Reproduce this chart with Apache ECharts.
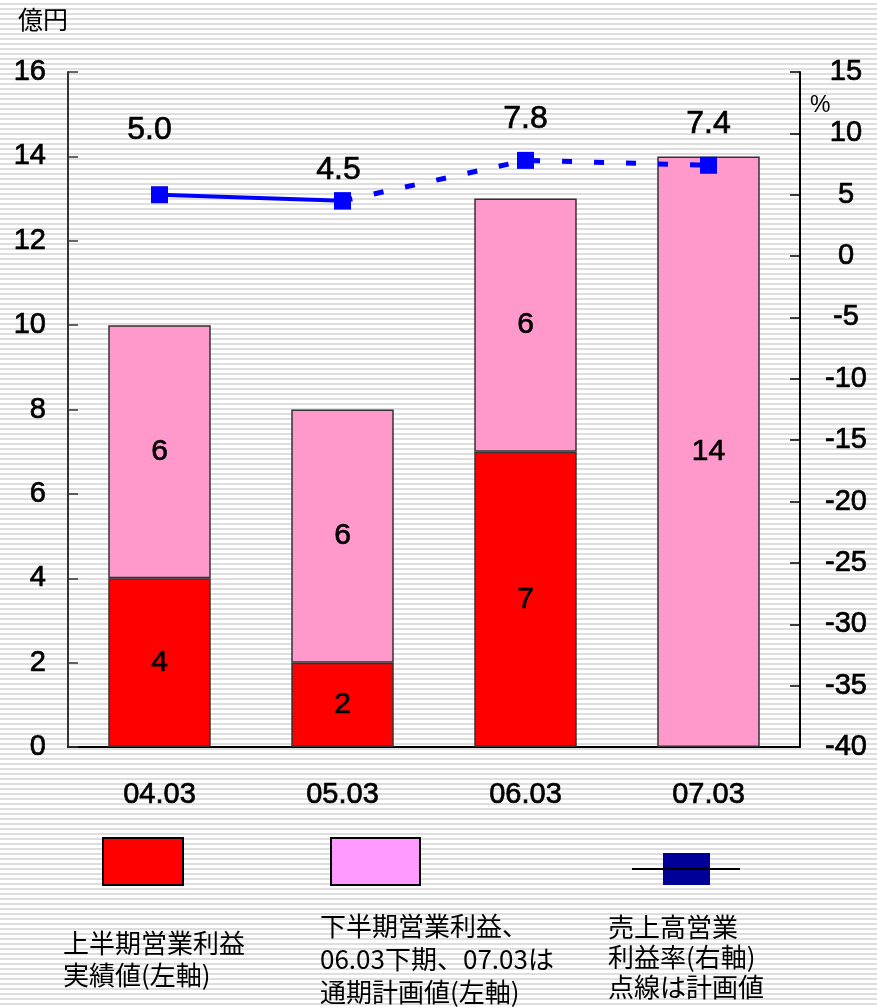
<!DOCTYPE html>
<html>
<head>
<meta charset="UTF-8" />
<title>営業利益</title>
<style>
* { margin: 0; padding: 0; }
html, body { width: 877px; height: 1007px; }
body {
  background: repeating-linear-gradient(to bottom, #ffffff 0px, #ffffff 3px, #dedede 3px, #dedede 5px);
}
#chart { width: 877px; height: 1007px; }
</style>
</head>
<body>
<div id="chart"></div>
<script src="https://cdn.jsdelivr.net/npm/echarts@6/dist/echarts.min.js"></script>
<script>
// 年度
let categories = ['04.03', '05.03', '06.03', '07.03']
// 上半期営業利益 実績値 (億円)
let firstHalf = [4, 2, 7, null]
// 下半期営業利益 / 通期計画値 (億円)
let secondHalf = [6, 6, 6, 14]
// 売上高営業利益率 (%) 実線=実績, 点線=計画
let marginActual = [5.0, 4.5, null, null]
let marginPlan = [null, 4.5, 7.8, 7.4]

let numFont = "'Liberation Sans', Arial, sans-serif"
let jpFont = "'Noto Sans CJK JP', sans-serif"
// 文字を少し太く見せる
let thick = { textBorderColor: '#000', textBorderWidth: 0.7 }

let chart = echarts.init(document.getElementById('chart'))

// ラベル位置を点ごとに調整
let labelDist = [40, 6, 17, 17]
let labelOff = [[-10, 0], [-4, 0], [0, 0], [0, 0]]
function withLabels(arr, showIdx) {
  return arr.map((v, i) => {
    if (v === null) return null
    return {
      value: v,
      label: {
        show: showIdx.indexOf(i) >= 0,
        distance: labelDist[i],
        offset: labelOff[i]
      }
    }
  })
}

let option = {
  backgroundColor: 'transparent',
  animation: false,
  grid: { left: 68, right: 77, top: 72, bottom: 260 },
  xAxis: {
    type: 'category',
    data: categories,
    axisLine: { lineStyle: { color: '#000', width: 2 } },
    axisTick: { inside: true, length: 10, lineStyle: { color: '#000', width: 1.5 } },
    axisLabel: Object.assign({ color: '#000', fontSize: 29, fontFamily: numFont, margin: 33 }, thick)
  },
  yAxis: [
    {
      type: 'value',
      min: 0, max: 16, interval: 2,
      name: '億円',
      nameLocation: 'end',
      nameGap: 40,
      nameTextStyle: { color: '#000', fontSize: 25, fontFamily: jpFont, align: 'right' },
      axisLine: { show: true, lineStyle: { color: '#333', width: 2 } },
      axisTick: { show: true, inside: true, length: 10, lineStyle: { color: '#333', width: 1.5 } },
      axisLabel: Object.assign({ color: '#000', fontSize: 29, fontFamily: numFont, margin: 22 }, thick),
      splitLine: { show: false }
    },
    {
      type: 'value',
      min: -40, max: 15, interval: 5,
      position: 'right',
      axisLine: { show: true, lineStyle: { color: '#000', width: 2 } },
      axisTick: { show: true, inside: true, length: 10, lineStyle: { color: '#000', width: 1.5 } },
      axisLabel: Object.assign({ color: '#000', fontSize: 29, fontFamily: numFont, margin: 46, align: 'center' }, thick),
      splitLine: { show: false }
    }
  ],
  series: [
    {
      name: '上半期営業利益実績値',
      type: 'bar',
      stack: 'op',
      barWidth: '56%',
      data: firstHalf,
      itemStyle: { color: '#ff0000', borderColor: '#333', borderWidth: 1.5 },
      label: Object.assign({ show: true, position: 'inside', color: '#000', fontSize: 30, fontFamily: numFont }, thick)
    },
    {
      name: '下半期営業利益',
      type: 'bar',
      stack: 'op',
      barWidth: '56%',
      data: secondHalf,
      itemStyle: { color: '#ff99cc', borderColor: '#333', borderWidth: 1.5 },
      label: Object.assign({ show: true, position: 'inside', color: '#000', fontSize: 30, fontFamily: numFont }, thick)
    },
    {
      name: '売上高営業利益率',
      type: 'line',
      yAxisIndex: 1,
      data: withLabels(marginActual, [0]),
      symbol: 'rect',
      symbolSize: 17,
      lineStyle: { color: '#0000ff', width: 4 },
      itemStyle: { color: '#0000ff' },
      label: Object.assign({ position: 'top', color: '#000', fontSize: 32, fontFamily: numFont, formatter: p => p.value.toFixed(1) }, thick),
      z: 5
    },
    {
      name: '売上高営業利益率(計画)',
      type: 'line',
      yAxisIndex: 1,
      data: withLabels(marginPlan, [1, 2, 3]),
      symbol: 'rect',
      symbolSize: 17,
      lineStyle: { color: '#0000ff', width: 5, type: [10, 22] },
      itemStyle: { color: '#0000ff' },
      label: Object.assign({ position: 'top', color: '#000', fontSize: 32, fontFamily: numFont, formatter: p => p.value.toFixed(1) }, thick),
      z: 5
    }
  ],
  graphic: [
    { type: 'text', left: 810, top: 94, style: { text: '%', fontSize: 23, fontFamily: numFont, fill: '#000' } },
    // 凡例
    { type: 'rect', shape: { x: 103, y: 838, width: 80, height: 47 }, style: { fill: '#ff0000', stroke: '#000', lineWidth: 2 } },
    { type: 'rect', shape: { x: 331, y: 838, width: 89, height: 47 }, style: { fill: '#ff99ff', stroke: '#000', lineWidth: 2 } },
    { type: 'rect', shape: { x: 663, y: 853, width: 47, height: 32 }, style: { fill: '#000099' }, z: 0 },
    { type: 'line', shape: { x1: 632, y1: 869, x2: 740, y2: 869 }, style: { stroke: '#000', lineWidth: 2 }, z: 2 },
    { type: 'text', left: 63, top: 927, style: { text: '上半期営業利益\n実績値(左軸)', fontSize: 26, lineHeight: 32, fontFamily: jpFont, fill: '#000' } },
    { type: 'text', left: 320, top: 910, style: { text: '下半期営業利益、\n06.03下期、07.03は\n通期計画値(左軸)', fontSize: 26, lineHeight: 33, fontFamily: jpFont, fill: '#000' } },
    { type: 'text', left: 608, top: 912, style: { text: '売上高営業\n利益率(右軸)\n点線は計画値', fontSize: 26, lineHeight: 30, fontFamily: jpFont, fill: '#000' } }
  ]
}

chart.setOption(option)
</script>
</body>
</html>
